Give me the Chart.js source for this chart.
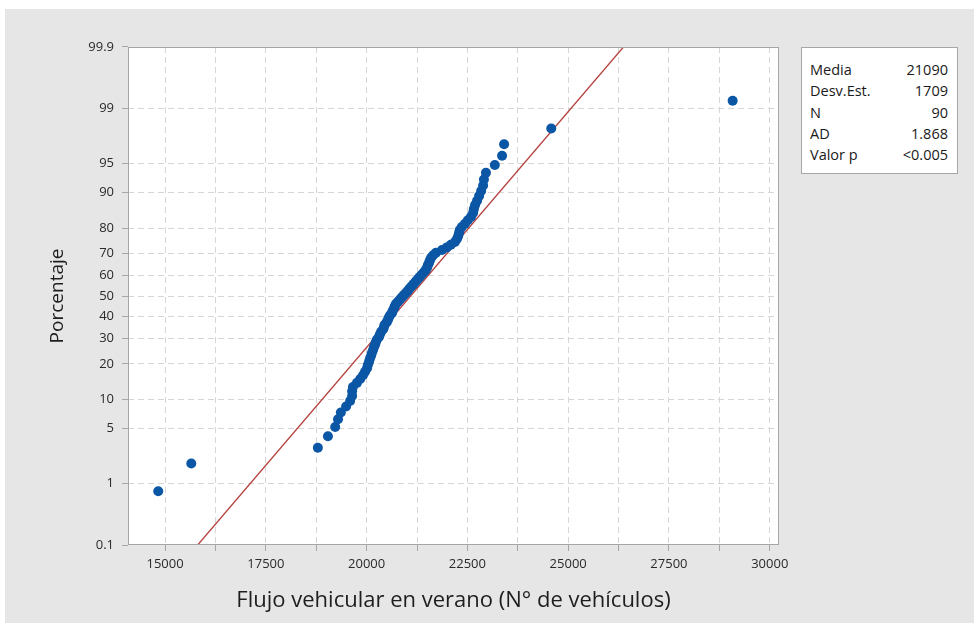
<!DOCTYPE html>
<html><head><meta charset="utf-8">
<script src="https://cdn.jsdelivr.net/npm/chart.js@4.4.1/dist/chart.umd.min.js"></script>
<style>
html,body{margin:0;padding:0;background:#fff;}
#wrap{position:relative;width:974px;height:623px;overflow:hidden;}
canvas{position:absolute;left:0;top:0;}
#stats{position:absolute;left:801px;top:47px;width:157px;height:127px;border:1px solid #a6a6a6;background:#fff;box-sizing:border-box;font-family:"Open Sans",sans-serif;font-size:14.5px;color:#1a1a1a;}
#stats table{border-collapse:collapse;position:absolute;left:8px;top:11px;width:138px;}
#stats td{padding:0;height:21.3px;line-height:21.3px;white-space:nowrap;}
#stats td.v{text-align:right;}
</style></head>
<body><div id="wrap"><canvas id="c" width="974" height="623"></canvas><div id="stats"><table id="st"></table></div></div>
<script>
// ---- data ----
const flujo = [14830,15650,18790,19040,19220,19290,19360,19490,19590,19640,
  19640,19660,19760,19840,19910,19960,20010,20030,20060,20080,
  20110,20130,20160,20180,20210,20230,20260,20310,20330,20360,
  20410,20430,20450,20500,20530,20550,20580,20630,20650,20680,
  20700,20730,20780,20830,20880,20930,20980,21030,21070,21120,
  21170,21220,21270,21320,21370,21420,21470,21500,21520,21550,
  21570,21600,21650,21720,21870,21990,22090,22190,22240,22270,
  22290,22310,22360,22440,22510,22590,22640,22660,22690,22740,
  22790,22840,22890,22910,22960,23180,23360,23410,24580,29080];
const porcentaje = [0.77,1.88,2.99,4.09,5.20,6.31,7.41,8.52,9.62,10.73,
  11.84,12.94,14.05,15.15,16.26,17.37,18.47,19.58,20.69,21.79,
  22.90,24.00,25.11,26.22,27.32,28.43,29.54,30.64,31.75,32.85,
  33.96,35.07,36.17,37.28,38.39,39.49,40.60,41.70,42.81,43.92,
  45.02,46.13,47.23,48.34,49.45,50.55,51.66,52.77,53.87,54.98,
  56.08,57.19,58.30,59.40,60.51,61.62,62.72,63.83,64.93,66.04,
  67.15,68.25,69.36,70.46,71.57,72.68,73.78,74.89,76.00,77.10,
  78.21,79.31,80.42,81.53,82.63,83.74,84.85,85.95,87.06,88.16,
  89.27,90.38,91.48,92.59,93.69,94.80,95.91,97.01,98.12,99.23];
const yTickPct = [0.1,1,5,10,20,30,40,50,60,70,80,90,95,99,99.9];
const xTickVals = [15000,16250,17500,18750,20000,21250,22500,23750,25000,26250,27500,28750,30000];
const xTickLabels = [15000,17500,20000,22500,25000,27500,30000];
const media = 21090, desvEst = 1709;
const statLabels = ['Media','Desv.Est.','N','AD','Valor p'];
const statValues = ['21090','1709','90','1.868','<0.005'];

// ---- stats box ----
const st = document.getElementById('st');
statLabels.forEach((l,i)=>{
  const tr=document.createElement('tr');
  const a=document.createElement('td'); a.textContent=l;
  const b=document.createElement('td'); b.className='v'; b.textContent=statValues[i];
  tr.appendChild(a); tr.appendChild(b); st.appendChild(tr);
});

// inverse normal CDF (probability-scale transform)
function probit(p){
  const a=[-3.969683028665376e+01,2.209460984245205e+02,-2.759285104469687e+02,1.383577518672690e+02,-3.066479806614716e+01,2.506628277459239e+00];
  const b=[-5.447609879822406e+01,1.615858368580409e+02,-1.556989798598866e+02,6.680131188771972e+01,-1.328068155288572e+01];
  const c=[-7.784894002430293e-03,-3.223964580411365e-01,-2.400758277161838e+00,-2.549732539343734e+00,4.374664141464968e+00,2.938163982698783e+00];
  const d=[7.784695709041462e-03,3.224671290700398e-01,2.445134137142996e+00,3.754408661907416e+00];
  const pl=0.02425, ph=1-pl; let q,r;
  if(p<pl){q=Math.sqrt(-2*Math.log(p));return (((((c[0]*q+c[1])*q+c[2])*q+c[3])*q+c[4])*q+c[5])/((((d[0]*q+d[1])*q+d[2])*q+d[3])*q+1);}
  if(p<=ph){q=p-0.5;r=q*q;return (((((a[0]*r+a[1])*r+a[2])*r+a[3])*r+a[4])*r+a[5])*q/(((((b[0]*r+b[1])*r+b[2])*r+b[3])*r+b[4])*r+1);}
  q=Math.sqrt(-2*Math.log(1-p));return -(((((c[0]*q+c[1])*q+c[2])*q+c[3])*q+c[4])*q+c[5])/((((d[0]*q+d[1])*q+d[2])*q+d[3])*q+1);
}
const zMin = probit(yTickPct[0]/100), zMax = -zMin;
const pts = flujo.map((x,i)=>({x:x, y:probit(porcentaje[i]/100)}));
const fitLine = [{x:media+desvEst*zMin, y:zMin},{x:media+desvEst*zMax, y:zMax}];

const FONT = '"Open Sans", sans-serif';
const bgPlugin = {
  id:'bg',
  beforeDraw(chart){
    const ctx=chart.ctx, a=chart.chartArea;
    ctx.save();
    ctx.fillStyle='#ffffff'; ctx.fillRect(0,0,chart.width,chart.height);
    ctx.fillStyle='#e6e6e6'; ctx.fillRect(5,9,chart.width-5,chart.height-9);
    ctx.fillStyle='#ffffff'; ctx.fillRect(a.left,a.top,a.right-a.left,a.bottom-a.top);
    ctx.restore();
  },
  afterDraw(chart){
    const ctx=chart.ctx, a=chart.chartArea;
    ctx.save(); ctx.strokeStyle='#a6a6a6'; ctx.lineWidth=1;
    ctx.strokeRect(a.left+0.5,a.top+0.5,a.right-a.left-1,a.bottom-a.top-1);
    ctx.restore();
  }
};

new Chart(document.getElementById('c'),{
  type:'scatter',
  data:{datasets:[
    {type:'scatter', data:pts, pointRadius:5, pointHoverRadius:5, backgroundColor:'#0b56a5', borderColor:'#0b56a5', borderWidth:0, order:0},
    {type:'line', data:fitLine, borderColor:'#b4413d', borderWidth:1.3, pointRadius:0, fill:false, order:1}
  ]},
  options:{
    responsive:false, animation:false, devicePixelRatio:1,
    plugins:{legend:{display:false}, tooltip:{enabled:false}},
    layout:{padding:{left:0,top:47,right:195,bottom:0}},
    scales:{
      x:{type:'linear', min:14080, max:30230,
        afterBuildTicks:s=>{ s.ticks = xTickVals.map(v=>({value:v})); },
        afterFit:s=>{ s.height = 78; },
        ticks:{autoSkip:false, maxRotation:0, padding:5, color:'#2a2a2a', font:{family:FONT,size:13}, 
          callback:v=> xTickLabels.includes(v) ? String(v) : ''},
        grid:{color:'#d6d6d6', lineWidth:1, tickLength:6, tickColor:'#a6a6a6', tickBorderDash:[]},
        border:{display:false, dash:[6,4]},
        title:{display:true, text:'Flujo vehicular en verano (N° de vehículos)', color:'#1e1e1e', font:{family:FONT,size:22}, padding:{top:0,bottom:9}}
      },
      y:{type:'linear', min:zMin, max:zMax,
        afterBuildTicks:s=>{ s.ticks = yTickPct.map(p=>({value:probit(p/100)})); },
        afterFit:s=>{ s.width = 128; },
        ticks:{autoSkip:false, padding:8, color:'#2a2a2a', font:{family:FONT,size:13},
          callback:(v,i)=> String(yTickPct[i])},
        grid:{color:c=> (c.index===0 || c.index===yTickPct.length-1) ? 'rgba(0,0,0,0)' : '#d6d6d6',
          lineWidth:1, tickLength:6, tickColor:'#a6a6a6', tickBorderDash:[]},
        border:{display:false, dash:[6,4]},
        title:{display:true, text:'Porcentaje', color:'#1e1e1e', font:{family:FONT,size:19}, padding:{top:46,bottom:0}}
      }
    }
  },
  plugins:[bgPlugin]
});
</script>
</body></html>
